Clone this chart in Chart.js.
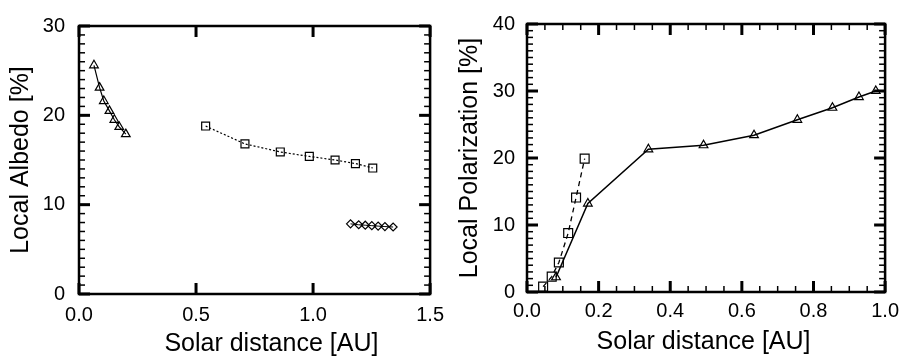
<!DOCTYPE html>
<html><head><meta charset="utf-8">
<script src="https://cdn.jsdelivr.net/npm/chart.js@4/dist/chart.umd.min.js"></script>
<style>
html,body{margin:0;padding:0;background:#fff;}
#wrap{position:relative;width:906px;height:359px;background:#fff;}
.pane{position:absolute;top:0;width:453px;height:359px;}
</style></head><body>
<div id="wrap">
<div class="pane" style="left:0"><canvas id="c1"></canvas></div>
<div class="pane" style="left:453px"><canvas id="c2"></canvas></div>
</div>
<script>
// ---- data: left panel (Local Albedo) ----
const leftTriX = [0.064, 0.088, 0.106, 0.130, 0.151, 0.172, 0.200];
const leftTriY = [25.6, 23.1, 21.6, 20.5, 19.5, 18.7, 17.9];
const leftSqX  = [0.541, 0.709, 0.860, 0.984, 1.094, 1.181, 1.255];
const leftSqY  = [18.8, 16.8, 15.9, 15.4, 15.0, 14.6, 14.1];
const leftDiaX = [1.160, 1.195, 1.223, 1.251, 1.278, 1.307, 1.342];
const leftDiaY = [7.85, 7.75, 7.70, 7.65, 7.60, 7.55, 7.50];
// ---- data: right panel (Local Polarization) ----
const rightTriX = [0.081, 0.170, 0.339, 0.493, 0.634, 0.755, 0.853, 0.927, 0.974];
const rightTriY = [2.2, 13.2, 21.3, 21.9, 23.4, 25.7, 27.5, 29.1, 30.0];
const rightSqX  = [0.045, 0.069, 0.089, 0.115, 0.137, 0.161];
const rightSqY  = [0.8, 2.3, 4.4, 8.8, 14.1, 19.9];
// ---- tick labels ----
const leftXTicks  = [0.0, 0.5, 1.0, 1.5];
const leftYTicks  = [0, 10, 20, 30];
const rightXTicks = [0.0, 0.2, 0.4, 0.6, 0.8, 1.0];
const rightYTicks = [0, 10, 20, 30, 40];
const xTitleText = 'Solar distance [AU]';
const leftYTitle = 'Local Albedo [%]';
const rightYTitle = 'Local Polarization [%]';

const FONT = "'Liberation Sans', Arial, Helvetica, sans-serif";
Chart.defaults.font.family = FONT;
Chart.defaults.color = '#000';

const pts = (xs, ys) => xs.map((x, i) => ({x: x, y: ys[i]}));

const frameTicks = {
  id: 'frameTicks',
  afterDatasetsDraw(chart, args, o) {
    const {ctx, chartArea: a, scales} = chart;
    const x = scales.x, y = scales.y;
    ctx.save();
    ctx.strokeStyle = '#000';
    ctx.lineCap = 'butt';
    const seg = (x1, y1, x2, y2) => { ctx.beginPath(); ctx.moveTo(x1, y1); ctx.lineTo(x2, y2); ctx.stroke(); };
    // minor ticks
    ctx.lineWidth = 1.5;
    if (o.minorY) {
      for (let v = y.min; v <= y.max + 1e-9; v += o.minorY) {
        const p = y.getPixelForValue(v);
        seg(a.left, p, a.left + 6, p); seg(a.right - 6, p, a.right, p);
      }
    }
    if (o.minorX) {
      for (let v = x.min; v <= x.max + 1e-9; v += o.minorX) {
        const p = x.getPixelForValue(v);
        seg(p, a.bottom, p, a.bottom - 6); seg(p, a.top, p, a.top + 6);
      }
    }
    // major ticks
    ctx.lineWidth = 3;
    y.ticks.forEach(t => { const p = y.getPixelForValue(t.value);
      seg(a.left, p, a.left + 11, p); seg(a.right - 11, p, a.right, p); });
    x.ticks.forEach(t => { const p = x.getPixelForValue(t.value);
      seg(p, a.bottom, p, a.bottom - 11); seg(p, a.top, p, a.top + 11); });
    // frame
    ctx.lineWidth = 2.5;
    ctx.strokeRect(a.left, a.top, a.right - a.left, a.bottom - a.top);
    // x title
    if (o.xTitle) {
      ctx.fillStyle = '#000';
      ctx.font = '25px ' + FONT;
      ctx.textAlign = 'center';
      ctx.textBaseline = 'middle';
      ctx.fillText(o.xTitle, a.left + o.xTitleFrac * (a.right - a.left), o.xTitleY);
    }
    ctx.restore();
  }
};

function makeChart(id, cfg) {
  const setTicks = arr => s => { s.ticks = arr.map(v => ({value: v})); };
  return new Chart(document.getElementById(id), {
    type: 'scatter',
    data: {datasets: cfg.datasets},
    options: {
      responsive: true, maintainAspectRatio: false, animation: false,
      layout: {padding: cfg.padding},
      plugins: {legend: {display: false}, tooltip: {enabled: false},
        frameTicks: cfg.frame},
      scales: {
        x: {type: 'linear', min: cfg.xMin, max: cfg.xMax,
          afterBuildTicks: setTicks(cfg.xTicks),
          afterFit: s => { s.height = cfg.xHeight; },
          ticks: {callback: v => Number(v).toFixed(1), font: {size: 20}, color: '#000',
            padding: cfg.xPad, maxRotation: 0, autoSkip: false},
          grid: {display: false, drawTicks: false}, border: {display: false}},
        y: {type: 'linear', min: cfg.yMin, max: cfg.yMax,
          afterBuildTicks: setTicks(cfg.yTicks),
          afterFit: s => { s.width = cfg.yWidth; },
          ticks: {callback: v => String(v), font: {size: 20}, color: '#000',
            padding: cfg.yPad, autoSkip: false},
          grid: {display: false, drawTicks: false}, border: {display: false},
          title: {display: true, text: cfg.yTitle, color: '#000',
            font: {size: 25, lineHeight: 1}, padding: {top: cfg.yTitlePad, bottom: 0}}}
      }
    },
    plugins: [frameTicks]
  });
}

const base = {showLine: true, borderColor: '#000', pointBorderColor: '#000',
  pointBackgroundColor: 'rgba(0,0,0,0)', backgroundColor: 'rgba(0,0,0,0)',
  pointBorderWidth: 1.2, pointHoverRadius: 5, tension: 0};

makeChart('c1', {
  padding: {left: 0, top: 21, right: 17, bottom: 0},
  xMin: 0, xMax: 1.5, yMin: 0, yMax: 30,
  xTicks: leftXTicks, yTicks: leftYTicks,
  xHeight: 65, yWidth: 79, xPad: 9, yPad: 14, yTitlePad: 8.5,
  yTitle: leftYTitle,
  frame: {minorY: 1, minorX: 0, xTitle: xTitleText, xTitleFrac: 0.548, xTitleY: 344},
  datasets: [
    Object.assign({}, base, {data: pts(leftTriX, leftTriY), pointStyle: 'triangle', pointRadius: 5, borderWidth: 1.2}),
    Object.assign({}, base, {data: pts(leftSqX, leftSqY), pointStyle: 'rect', pointRadius: 5.6, borderWidth: 1.2, borderDash: [2, 2]}),
    Object.assign({}, base, {data: pts(leftDiaX, leftDiaY), pointStyle: 'rectRot', pointRadius: 4, borderWidth: 1})
  ]
});

makeChart('c2', {
  padding: {left: 0, top: 14, right: 18, bottom: 0},
  xMin: 0, xMax: 1.0, yMin: 0, yMax: 40,
  xTicks: rightXTicks, yTicks: rightYTicks,
  xHeight: 67, yWidth: 74, xPad: 7, yPad: 12, yTitlePad: 4.5,
  yTitle: rightYTitle,
  frame: {minorY: 1, minorX: 0.05, xTitle: xTitleText, xTitleFrac: 0.493, xTitleY: 342},
  datasets: [
    Object.assign({}, base, {data: pts(rightTriX, rightTriY), pointStyle: 'triangle', pointRadius: 5, borderWidth: 1.5}),
    Object.assign({}, base, {data: pts(rightSqX, rightSqY), pointStyle: 'rect', pointRadius: 6.3, borderWidth: 1.3, borderDash: [5, 4]})
  ]
});
</script>
</body></html>
